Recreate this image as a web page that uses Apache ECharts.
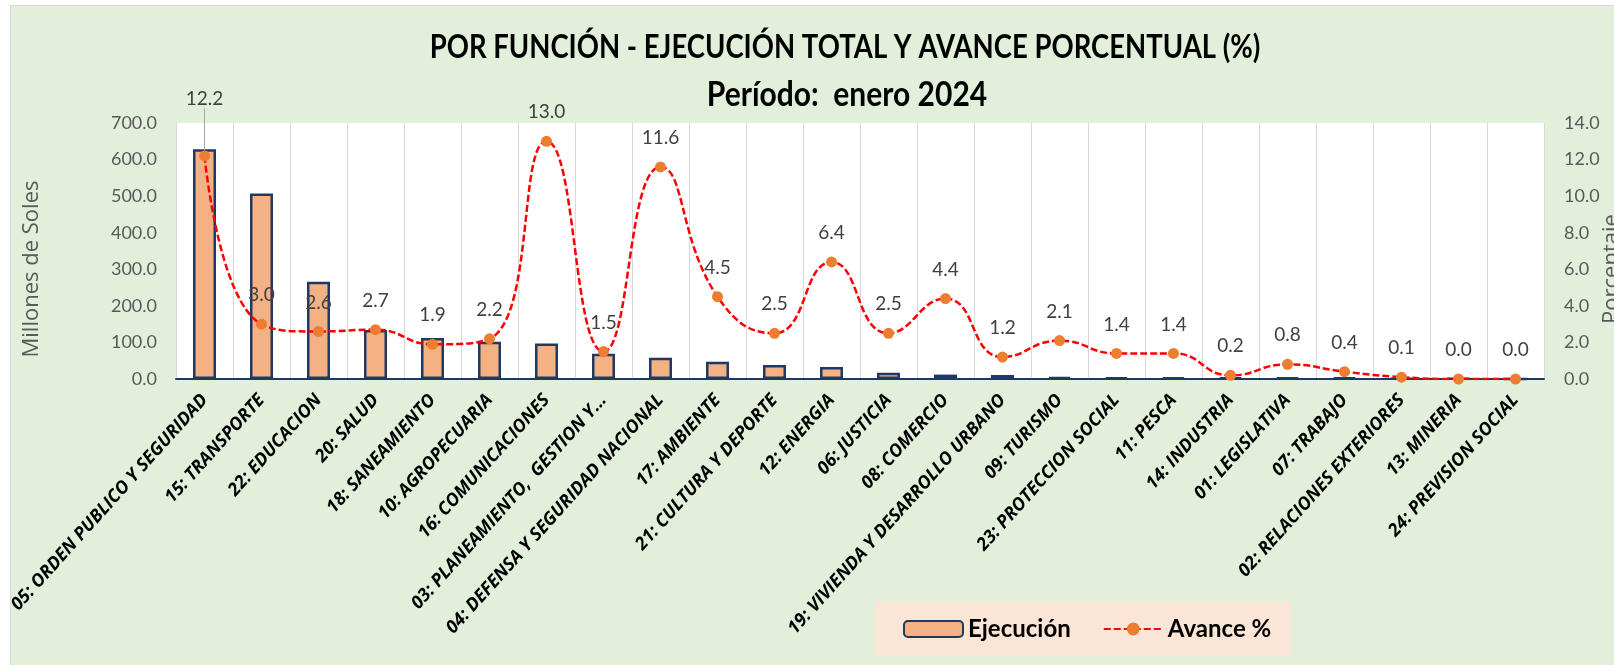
<!DOCTYPE html>
<html>
<head>
<meta charset="utf-8">
<style>
html, body { margin: 0; padding: 0; background: #fff; }
#main {
    position: absolute;
    left: 10px;
    top: 5px;
    width: 1604px;
    height: 660px;
    background: #E2EFDA;
    border-left: 1px solid #D9D9D9;
    border-top: 1px solid #D9D9D9;
}
</style>
<script src="https://cdn.jsdelivr.net/npm/echarts@6/dist/echarts.min.js"></script>
</head>
<body>
<div id="main"></div>
<script>
    var categorias = [
        '05: ORDEN PUBLICO Y SEGURIDAD', '15: TRANSPORTE', '22: EDUCACION', '20: SALUD',
        '18: SANEAMIENTO', '10: AGROPECUARIA', '16: COMUNICACIONES', '03: PLANEAMIENTO,  GESTION Y...',
        '04: DEFENSA Y SEGURIDAD NACIONAL', '17: AMBIENTE', '21: CULTURA Y DEPORTE', '12: ENERGIA',
        '06: JUSTICIA', '08: COMERCIO', '19: VIVIENDA Y DESARROLLO URBANO', '09: TURISMO',
        '23: PROTECCION SOCIAL', '11: PESCA', '14: INDUSTRIA', '01: LEGISLATIVA',
        '07: TRABAJO', '02: RELACIONES EXTERIORES', '13: MINERIA', '24: PREVISION SOCIAL'
    ];
    // millones de soles
    var ejecucion = [628, 507, 266, 134, 112, 102, 97, 69, 58, 47, 38, 33, 17, 12, 11, 5, 4.5, 4.5, 4, 4, 4, 2, 2, 0.3];
    // avance %
    var avance = [12.2, 3.0, 2.6, 2.7, 1.9, 2.2, 13.0, 1.5, 11.6, 4.5, 2.5, 6.4, 2.5, 4.4, 1.2, 2.1, 1.4, 1.4, 0.2, 0.8, 0.4, 0.1, 0.0, 0.0];

    var titulo = 'POR FUNCIÓN - EJECUCIÓN TOTAL Y AVANCE PORCENTUAL (%)';
    var subtitulo = 'Período:  enero 2024';

    var fuente = "Lato, 'Open Sans', sans-serif";

    var chart = echarts.init(document.getElementById('main'));

    // el primer punto lleva la etiqueta desplazada con linea guia
    var avanceData = avance.map(function (v, i) {
        if (i === 0) {
            return { value: v, labelLine: { show: true } };
        }
        return v;
    });

    var option = {
        textStyle: { fontFamily: fuente },
        graphic: [
            {
                type: 'text', x: 834, y: 26, scaleY: 1.15,
                style: { text: titulo, font: 'bold 27.5px ' + fuente, fill: '#000', align: 'center', verticalAlign: 'top' }
            },
            {
                type: 'text', x: 836, y: 72, scaleY: 1.12,
                style: { text: subtitulo, font: 'bold 30px ' + fuente, fill: '#000', align: 'center', verticalAlign: 'top' }
            }
        ],
        legend: {
            left: 864,
            top: 596,
            backgroundColor: '#FBE5D6',
            padding: [15, 20, 15, 28],
            itemGap: 32,
            itemWidth: 59,
            itemHeight: 16,
            textStyle: { fontSize: 24, fontWeight: 'bold', color: '#000', fontFamily: fuente },
            data: ['Ejecución', 'Avance %']
        },
        grid: {
            left: 165,
            right: 71,
            top: 117,
            bottom: 287,
            outerBoundsMode: 'none',
            containLabel: false,
            show: true,
            backgroundColor: '#fff',
            borderWidth: 0
        },
        xAxis: {
            type: 'category',
            data: categorias,
            axisLine: { lineStyle: { color: '#1F3864', width: 2 } },
            axisTick: { show: false },
            splitLine: { show: true, lineStyle: { color: '#D9D9D9', width: 1 } },
            axisLabel: {
                interval: 0,
                rotate: 48,
                margin: 18,
                color: '#000',
                fontSize: 18,
                fontWeight: 'bold',
                fontStyle: 'italic',
                fontFamily: "'Open Sans', sans-serif"
            }
        },
        yAxis: [
            {
                type: 'value',
                min: 0, max: 700, interval: 100,
                name: 'Millones de Soles',
                nameLocation: 'middle',
                nameGap: 133,
                nameRotate: 90,
                nameMoveOverlap: false,
                nameTextStyle: { color: '#595959', fontSize: 22, padding: [0, 36, 0, 0], fontFamily: 'Open Sans' },
                axisLine: { show: false },
                axisTick: { show: false },
                splitLine: { show: false },
                axisLabel: {
                    color: '#595959', fontSize: 18, margin: 19,
                    formatter: function (v) { return v.toFixed(1); }
                }
            },
            {
                type: 'value',
                min: 0, max: 14, interval: 2,
                name: 'Porcentaje',
                nameLocation: 'middle',
                nameGap: 57,
                nameRotate: 90,
                nameMoveOverlap: false,
                nameTextStyle: { color: '#595959', fontSize: 22, padding: [0, 36, 0, 0], fontFamily: 'Open Sans' },
                axisLine: { show: false },
                axisTick: { show: false },
                splitLine: { show: false },
                axisLabel: {
                    color: '#595959', fontSize: 18, margin: 20,
                    formatter: function (v) { return v.toFixed(1); }
                }
            }
        ],
        series: [
            {
                name: 'Ejecución',
                type: 'bar',
                data: ejecucion,
                barWidth: 23,
                itemStyle: { color: '#F4B183', borderColor: '#1F3864', borderWidth: 2.5 },
                z: 2
            },
            {
                name: 'Avance %',
                type: 'line',
                yAxisIndex: 1,
                data: avanceData,
                smooth: 0.5,
                symbol: 'circle',
                symbolSize: 11,
                itemStyle: { color: '#ED7D31' },
                lineStyle: { color: '#FF0000', width: 2.5, type: [7, 3] },
                label: {
                    show: true,
                    position: 'top',
                    distance: 14,
                    color: '#404040',
                    fontSize: 19,
                    formatter: function (p) { return p.value.toFixed(1); }
                },
                labelLine: { show: false, lineStyle: { color: '#A6A6A6', width: 1 } },
                labelLayout: function (p) {
                    if (p.dataIndex === 0) {
                        return { dy: -28 };
                    }
                },
                z: 3
            }
        ]
    };
    chart.setOption(option);
</script>
</body>
</html>
